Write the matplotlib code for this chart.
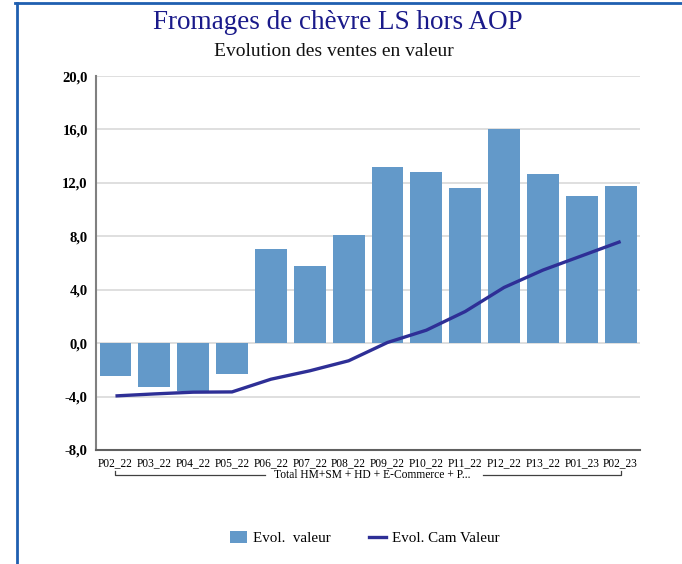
import numpy as np
import matplotlib.pyplot as plt
from matplotlib.lines import Line2D
from matplotlib.patches import Patch
from matplotlib.ticker import FuncFormatter

periodes = ['P02_22', 'P03_22', 'P04_22', 'P05_22', 'P06_22', 'P07_22', 'P08_22',
            'P09_22', 'P10_22', 'P11_22', 'P12_22', 'P13_22', 'P01_23', 'P02_23']
evol_valeur = [-2.43, -3.25, -3.57, -2.28, 7.06, 5.79, 8.11,
               13.2, 12.83, 11.63, 16.05, 12.68, 11.03, 11.78]
evol_cam = [-3.95, -3.8, -3.67, -3.65, -2.7, -2.07, -1.32,
            0.05, 0.97, 2.37, 4.17, 5.47, 6.54, 7.61]
groupe = 'Total HM+SM + HD + E-Commerce + P...'

COULEUR_BARRE = '#6399c9'
COULEUR_LIGNE = '#2e2f96'
POLICE = 'Liberation Serif'

plt.rcParams['font.family'] = POLICE

fig = plt.figure(figsize=(6.82, 5.64), dpi=100)
ax = fig.add_axes([0.1408, 0.2021, 0.7977, 0.6631])

x = np.arange(len(periodes))
ax.bar(x, evol_valeur, width=0.82, color=COULEUR_BARRE, zorder=2)
ax.plot(x, evol_cam, color=COULEUR_LIGNE, linewidth=2.4, zorder=3,
        solid_capstyle='butt')

ax.set_xlim(-0.5, len(periodes) - 0.5)
ax.set_ylim(-8, 20)
ax.set_yticks(np.arange(-8, 21, 4))
ax.yaxis.set_major_formatter(FuncFormatter(lambda v, p: f'{v:.1f}'.replace('.', ',')))
ax.set_xticks(x)
ax.set_xticklabels(periodes, fontsize=8.3)
ax.tick_params(axis='y', labelsize=10.5, length=0, pad=6)
ax.tick_params(axis='x', length=0, pad=5)
for lab in ax.get_yticklabels():
    lab.set_fontweight('bold')

ax.grid(axis='y', color='#d9d9d9', linewidth=1.2, zorder=0)
for s in ['top', 'right']:
    ax.spines[s].set_visible(False)
ax.spines['left'].set_color('#808080')
ax.spines['left'].set_linewidth(1.5)
ax.spines['bottom'].set_color('#606060')
ax.spines['bottom'].set_linewidth(1.5)

# accolade de regroupement sous les periodes
trans = ax.get_xaxis_transform()
yb = -0.068
yh = -0.055
kw = dict(color='#404040', linewidth=0.9, transform=trans, clip_on=False)
ax.plot([0, 0, 3.85], [yh, yb, yb], **kw)
ax.plot([9.45, 13, 13], [yb, yb, yh], **kw)
ax.text(6.6, yb, groupe, transform=trans, ha='center', va='center',
        fontsize=8.3)

fig.text(0.495, 0.96, 'Fromages de chèvre LS hors AOP', ha='center', va='center',
         fontsize=19.5, color='#1a1a8a')
fig.text(0.49, 0.908, 'Evolution des ventes en valeur', ha='center', va='center',
         fontsize=14, color='#111111')

handles = [Patch(facecolor=COULEUR_BARRE, edgecolor='none'),
           Line2D([0], [0], color=COULEUR_LIGNE, linewidth=2.4)]
fig.legend(handles, ['Evol.  valeur', 'Evol. Cam Valeur'], loc='center',
           bbox_to_anchor=(0.535, 0.046), ncol=2, frameon=False, fontsize=10.8,
           handlelength=1.1, handleheight=0.9, columnspacing=2.6, handletextpad=0.4)

# cadre bleu du graphique
fig.add_artist(Line2D([15 / 682, 1], [1 - 3 / 564, 1 - 3 / 564], transform=fig.transFigure,
                      color='#1f5fb0', linewidth=2))
fig.add_artist(Line2D([17 / 682, 17 / 682], [0, 1 - 3 / 564], transform=fig.transFigure,
                      color='#1f5fb0', linewidth=2))

fig.savefig('out.png', dpi=100)
